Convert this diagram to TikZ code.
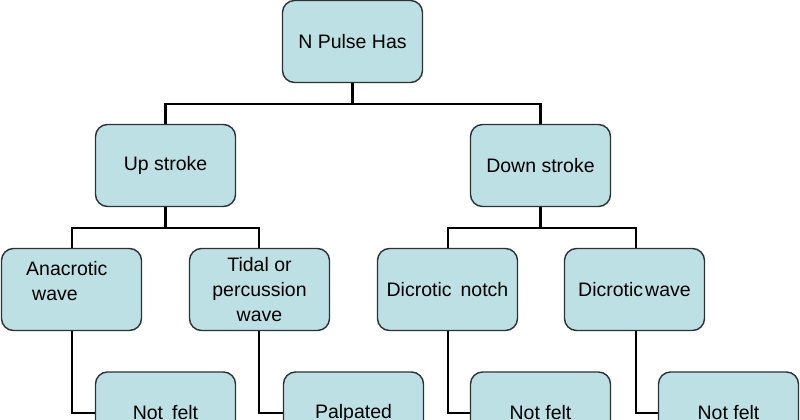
\documentclass[tikz,border=0pt]{standalone}
\usepackage{fontspec}
\setmainfont{Liberation Sans}
\definecolor{boxfill}{RGB}{188,224,227}
\definecolor{boxline}{RGB}{45,50,52}
\begin{document}
\begin{tikzpicture}[x=1pt,y=-1pt,
  box/.style={draw=boxline, line width=1.4pt, fill=boxfill, rounded corners=12pt,
    minimum width=140pt, minimum height=82pt, inner sep=0pt,
    font=\fontsize{19.5}{25}\selectfont, align=center},
  lbl/.style={inner sep=0pt, font=\fontsize{19.5}{25}\selectfont},
  conn/.style={line width=2.8pt, black}]
\useasboundingbox (0,0) rectangle (800,420);
\fill[white] (0,0) rectangle (800,420);
\clip (0,0) rectangle (800,420);
% connector junctions
\coordinate (b0) at (352.5,104);
\coordinate (b1) at (165.5,228);
\coordinate (b2) at (540.5,228);
% connectors
\draw[conn] (352.5,82) -- (b0);
\draw[conn] (b0) -| (165.5,124);
\draw[conn] (b0) -| (540.5,124);
\draw[conn] (165.5,207) -- (b1);
\draw[conn] (b1) -| (72,248);
\draw[conn] (b1) -| (259,248);
\draw[conn] (540.5,207) -- (b2);
\draw[conn] (b2) -| (448,248);
\draw[conn] (b2) -| (636,248);
\draw[conn] (72,331) |- (96,413);
\draw[conn] (259,331) |- (284,413);
\draw[conn] (448,331) |- (471,413);
\draw[conn] (636,331) |- (659,413);
% boxes
\node[box] (root) at (352.5,41.5) {N Pulse Has};
\node[box] (up) at (165.5,165.5) {Up stroke};
\node[box] (down) at (540.5,165.5) {Down stroke};
\node[box] (ana) at (71.5,289.5) {};
\node[lbl, align=left, anchor=north west] (analbl) at (26,261) {Anacrotic\\\hspace{6pt}wave};
\node[box] (tidal) at (259.5,289.5) {Tidal or\\percussion\\wave};
\node[box] (notch) at (447.5,289.5) {Dicrotic\hspace{9pt}notch};
\node[box] (dwave) at (634.5,289.5) {Dicrotic\hspace{2pt}wave};
\node[box] (nf1) at (165.5,413) {Not\hspace{9pt}felt};
\node[box] (palp) at (353.5,413) {Palpated};
\node[box] (nf3) at (540.5,413) {Not felt};
\node[box] (nf4) at (728.5,413) {Not felt};
\end{tikzpicture}
\end{document}
